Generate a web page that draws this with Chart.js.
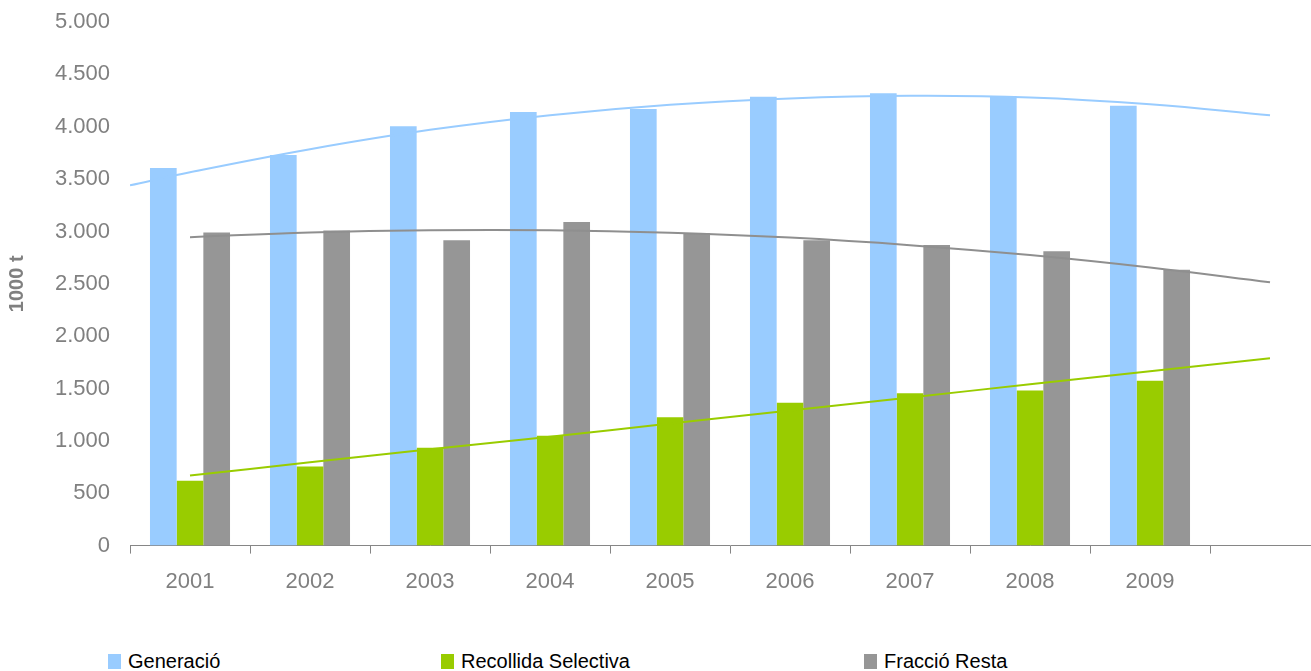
<!DOCTYPE html>
<html>
<head>
<meta charset="utf-8">
<script src="https://cdn.jsdelivr.net/npm/chart.js@4/dist/chart.umd.min.js"></script>
<style>
    html, body { margin: 0; padding: 0; background: #fff; overflow: hidden; }
    #wrap { position: relative; width: 1311px; height: 671px; overflow: hidden; }
    #box { position: absolute; left: 0; top: 0; width: 1331px; height: 630px; }
    #legend { position: absolute; top: 649px; left: 0; width: 1311px; height: 24px;
              font-family: Arial, "Liberation Sans", sans-serif; font-size: 20px; color: #000; }
    .item { position: absolute; top: 0; white-space: nowrap; line-height: 24px; }
    .sw { display: inline-block; width: 13px; height: 15px; margin-right: 7px; vertical-align: -1px; }
</style>
</head>
<body>
<div id="wrap">
    <div id="box"><canvas id="residusChart"></canvas></div>
    <div id="legend"></div>
</div>
<script>
const anys = ['2001', '2002', '2003', '2004', '2005', '2006', '2007', '2008', '2009', ''];
const anyPos = [0, 1, 2, 3, 4, 5, 6, 7, 8];

const generacio = [3605, 3730, 4005, 4140, 4170, 4285, 4320, 4290, 4200];
const recollidaSelectiva = [620, 755, 935, 1050, 1225, 1365, 1455, 1480, 1575];
const fraccioResta = [2990, 3010, 2915, 3090, 2985, 2915, 2870, 2810, 2635];

// linies de tendencia llegides del grafic (posicio = index de categoria)
const tendGenPos = [-0.5, 0, 1, 2, 3, 4, 5, 6, 7, 8, 9];
const tendGen = [3440, 3565, 3785, 3970, 4110, 4210, 4270, 4295, 4280, 4215, 4110];
const tendPos = [0, 1, 2, 3, 4, 5, 6, 7, 8, 9];
const tendSel = [670, 795, 920, 1040, 1165, 1290, 1415, 1540, 1665, 1790];
const tendResta = [2945, 2990, 3012, 3012, 2988, 2941, 2869, 2774, 2655, 2514];

const yTicks = [0, 500, 1000, 1500, 2000, 2500, 3000, 3500, 4000, 4500, 5000];

const colGen = '#99CCFF', colSel = '#99CC00', colResta = '#969696';
const font = 'Arial, "Liberation Sans", sans-serif';

const pts = (pos, vals) => vals.map((v, i) => ({ x: pos[i], y: v }));

const lineDs = (label, data, color) => ({
    type: 'line', label, data,
    borderColor: color, borderWidth: 2, pointRadius: 0,
    tension: 0.4, fill: false, order: 0
});

new Chart(document.getElementById('residusChart'), {
    type: 'bar',
    data: {
        datasets: [
            { label: 'Generació', data: pts(anyPos, generacio), backgroundColor: colGen, order: 1 },
            { label: 'Recollida Selectiva', data: pts(anyPos, recollidaSelectiva), backgroundColor: colSel, order: 1 },
            { label: 'Fracció Resta', data: pts(anyPos, fraccioResta), backgroundColor: colResta, order: 1 },
            lineDs('tend-gen', pts(tendGenPos, tendGen), colGen),
            lineDs('tend-sel', pts(tendPos, tendSel), colSel),
            lineDs('tend-resta', pts(tendPos, tendResta), '#8f8f8f')
        ]
    },
    options: {
        responsive: true, maintainAspectRatio: false, animation: false,
        datasets: { bar: { categoryPercentage: 0.667, barPercentage: 1.0 } },
        layout: { padding: { top: 22, right: 1, bottom: 20, left: 0 } },
        plugins: { legend: { display: false }, tooltip: { enabled: false } },
        scales: {
            x: {
                type: 'linear', offset: false, min: -0.5, max: 9.5,
                afterBuildTicks: s => { s.ticks = tendPos.map(v => ({ value: v })); },
                grid: { display: true, drawOnChartArea: false, drawTicks: true, tickLength: 8, offset: true, color: '#868686' },
                border: { display: true, color: '#868686', width: 1 },
                ticks: {
                    color: '#808080', font: { family: font, size: 22 }, padding: 15,
                    autoSkip: false, maxRotation: 0,
                    callback: v => anys[v]
                }
            },
            y: {
                min: 0, max: 5000,
                afterFit: s => { s.width = 130; s.paddingTop = 0; s.paddingBottom = 0; },
                afterBuildTicks: s => { s.ticks = yTicks.map(v => ({ value: v })); },
                grid: { display: false, drawTicks: false },
                border: { display: false },
                ticks: {
                    color: '#808080', padding: 20, font: { family: font, size: 22 },
                    callback: v => v.toLocaleString('de-DE')
                },
                title: { display: true, text: '1000 t', color: '#808080', padding: { top: 5, bottom: 0 },
                         font: { family: font, size: 20, weight: 'bold' } }
            }
        }
    }
});

// llegenda en HTML (posicions com a l'original)
const legendItems = [
    { text: 'Generació', color: colGen, left: 108 },
    { text: 'Recollida Selectiva', color: colSel, left: 441 },
    { text: 'Fracció Resta', color: colResta, left: 864 }
];
const lg = document.getElementById('legend');
legendItems.forEach(it => {
    const d = document.createElement('div');
    d.className = 'item';
    d.style.left = it.left + 'px';
    d.innerHTML = '<span class="sw" style="background:' + it.color + '"></span>' + it.text;
    lg.appendChild(d);
});
</script>
</body>
</html>
